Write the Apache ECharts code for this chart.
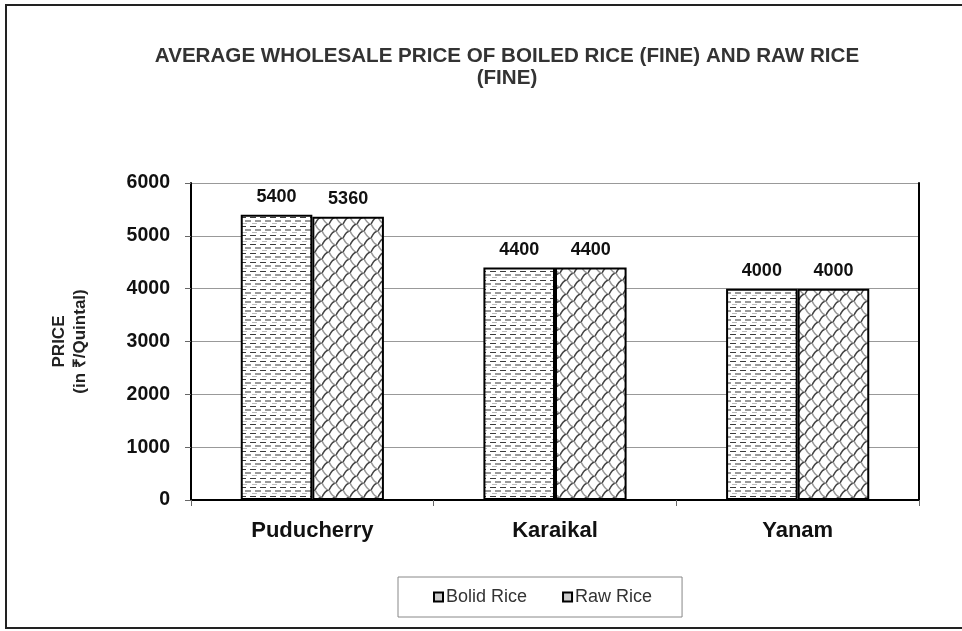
<!DOCTYPE html>
<html>
<head>
	<meta charset="utf-8">
	<title>Rice price</title>
	<script type="text/javascript" src="https://cdn.jsdelivr.net/npm/echarts@6/dist/echarts.min.js"></script>
	<style>
		body { margin: 0; background: #fff; }
	</style>
</head>
<body>
	<div id="main" style="width: 962px;height:631px;"></div>
	<script type="text/javascript">
var regions = ['Puducherry', 'Karaikal', 'Yanam'];
var bolidRice = [5400, 4400, 4000];
var rawRice = [5360, 4400, 4000];
var yTicks = [0, 1000, 2000, 3000, 4000, 5000, 6000];

// dashed fill for boiled rice
function dashPattern() {
    var c = document.createElement('canvas');
    c.width = 10; c.height = 9;
    var ctx = c.getContext('2d');
    ctx.fillStyle = '#fff';
    ctx.fillRect(0, 0, 10, 9);
    ctx.fillStyle = '#3a3a3a';
    ctx.fillRect(0, 1, 6, 1);
    ctx.fillStyle = '#9a9a9a';
    ctx.fillRect(5, 4, 5, 2);
    ctx.fillRect(0, 4, 1, 2);
    ctx.fillStyle = '#bbbbbb';
    ctx.fillRect(2, 7, 5, 1);
    return c;
}

// scale-like fill for raw rice
function scalePattern() {
    var c = document.createElement('canvas');
    c.width = 14; c.height = 14;
    var ctx = c.getContext('2d');
    ctx.fillStyle = '#fff';
    ctx.fillRect(0, 0, 14, 14);
    ctx.lineWidth = 1.6;
    ctx.strokeStyle = '#444';
    ctx.beginPath();
    ctx.moveTo(0, 7); ctx.quadraticCurveTo(3.5, 0, 7, 0);
    ctx.moveTo(7, 14); ctx.quadraticCurveTo(10.5, 7, 14, 7);
    ctx.stroke();
    ctx.strokeStyle = '#999';
    ctx.beginPath();
    ctx.moveTo(0, 7); ctx.quadraticCurveTo(3.5, 14, 7, 14);
    ctx.moveTo(7, 0); ctx.quadraticCurveTo(10.5, 7, 14, 7);
    ctx.stroke();
    return c;
}

var bolidFill = { image: dashPattern(), repeat: 'repeat' };
var rawFill = { image: scalePattern(), repeat: 'repeat' };

var labelStyle = {
    show: true,
    position: 'top',
    distance: 9,
    color: '#111',
    fontFamily: 'Liberation Sans, Arial',
    fontWeight: 'bold',
    fontSize: 18
};

option = {
    backgroundColor: '#fff',
    animation: false,
    title: {
        text: 'AVERAGE WHOLESALE PRICE OF BOILED RICE (FINE) AND RAW RICE\n(FINE)',
        left: 502,
        textAlign: 'center',
        top: 40,
        textStyle: {
            fontFamily: 'Liberation Sans, Arial',
            fontWeight: 'bold',
            fontSize: 20.6,
            lineHeight: 22,
            color: '#333'
        }
    },
    graphic: [{
        type: 'rect',
        shape: { x: 6, y: 5, width: 1000, height: 623 },
        style: { fill: 'none', stroke: '#222', lineWidth: 2 },
        silent: true
    }],
    legend: {
        left: 398,
        top: 577,
        data: ['Bolid Rice', 'Raw Rice'],
        icon: 'rect',
        itemWidth: 9,
        itemHeight: 9,
        itemGap: 35,
        padding: [11, 30, 11, 35],
        borderColor: '#888',
        borderWidth: 1,
        itemStyle: { color: '#ccc', borderColor: '#000', borderWidth: 2 },
        textStyle: {
            fontFamily: 'Liberation Sans, Arial',
            fontSize: 18,
            color: '#333',
            padding: [0, 0, 0, -2]
        }
    },
    grid: {
        left: 191,
        right: 43,
        top: 183,
        bottom: 131
    },
    xAxis: {
        type: 'category',
        data: regions,
        axisLine: { lineStyle: { color: '#000', width: 2 } },
        axisTick: { show: true, length: 6, lineStyle: { color: '#666' } },
        axisLabel: {
            margin: 20,
            color: '#111',
            fontFamily: 'Liberation Sans, Arial',
            fontWeight: 'bold',
            fontSize: 22
        }
    },
    yAxis: [{
        type: 'value',
        min: 0,
        max: 6000,
        interval: 1000,
        name: 'PRICE\n(in ₹/Quintal)',
        nameLocation: 'middle',
        nameGap: 100,
        nameRotate: 90,
        nameTextStyle: {
            fontFamily: 'Liberation Sans, Arial',
            fontWeight: 'bold',
            fontSize: 17,
            lineHeight: 21,
            color: '#222'
        },
        axisLine: { show: true, lineStyle: { color: '#000', width: 2 } },
        axisTick: { show: true, length: 6, lineStyle: { color: '#666' } },
        axisLabel: {
            margin: 21,
            color: '#111',
            fontFamily: 'Liberation Sans, Arial',
            fontWeight: 'bold',
            fontSize: 19.5,
            formatter: function (v) { return yTicks.indexOf(v) >= 0 ? String(v) : ''; }
        },
        splitLine: { lineStyle: { color: '#999', width: 1 } }
    }, {
        type: 'value',
        min: 0,
        max: 6000,
        interval: 1000,
        position: 'right',
        axisLine: { show: true, lineStyle: { color: '#000', width: 2 } },
        axisTick: { show: false },
        axisLabel: { show: false },
        splitLine: { show: false }
    }],
    series: [{
        name: 'Bolid Rice',
        type: 'bar',
        data: bolidRice,
        barGap: '0%',
        barCategoryGap: '41%',
        itemStyle: { color: bolidFill, borderColor: '#000', borderWidth: 2 },
        label: labelStyle
    }, {
        name: 'Raw Rice',
        type: 'bar',
        data: rawRice,
        itemStyle: { color: rawFill, borderColor: '#000', borderWidth: 2 },
        label: labelStyle
    }]
};

var myChart = echarts.init(document.getElementById('main'));
myChart.setOption(option);
	</script>
</body>
</html>
